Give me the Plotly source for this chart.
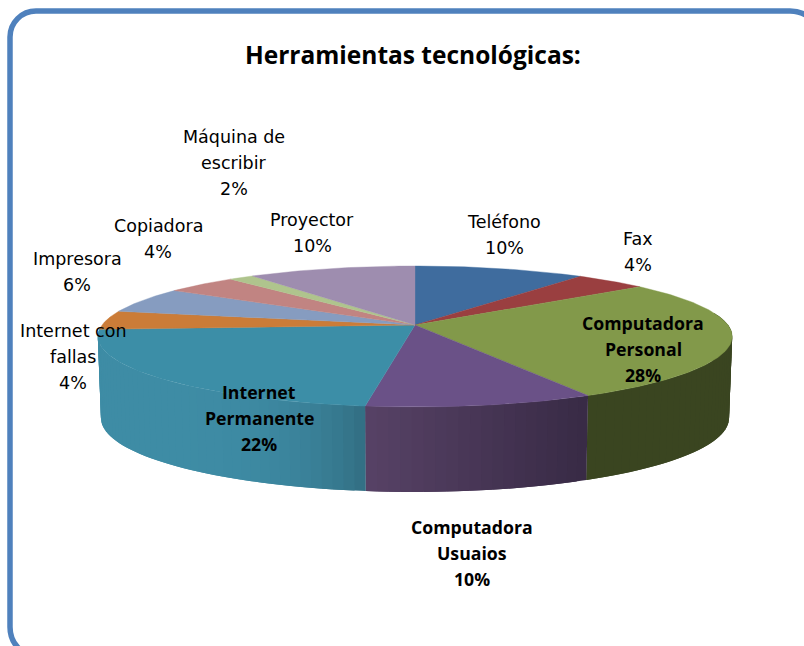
import math
import plotly.graph_objects as go

categories = ["Teléfono", "Fax", "Computadora Personal", "Computadora Usuaios", "Internet Permanente",
              "Internet con fallas", "Impresora", "Copiadora", "Máquina de escribir", "Proyector"]
# slice sizes (the printed labels are rounded)
values = [10.2, 4.3, 27.65, 9.98, 21.87, 4.3, 5.9, 4.3, 1.5, 10.0]
top_colors = ["#3F6C9E", "#9A3F40", "#82994A", "#6A5187", "#3C8EA7",
              "#CB7C38", "#869CC0", "#C18482", "#AFC48D", "#9E8DAF"]
# wall colours: colour at the left end and right end of each slice's visible side, and how the shade runs
wall_left = {2: (58, 69, 32), 3: (87, 66, 102), 4: (62, 140, 165)}
wall_right = {2: (58, 69, 32), 3: (56, 42, 69), 4: (50, 110, 130)}
wall_gamma = {2: 1.0, 3: 1.0, 4: 4.0}
label_lines = [["Teléfono", "10%"], ["Fax", "4%"], ["Computadora", "Personal", "28%"],
               ["Computadora", "Usuaios", "10%"], ["Internet", "Permanente", "22%"],
               ["Internet con", "fallas", "4%"], ["Impresora", "6%"], ["Copiadora", "4%"],
               ["Máquina de", "escribir", "2%"], ["Proyector", "10%"]]
label_bold = [False, False, True, True, True, False, False, False, False, False]
label_x = [504, 638, 643, 472, 259, 73, 77, 158, 234, 312]
label_y = [235, 252, 349, 553, 418, 357, 272, 239, 163, 233]
title_text = "Herramientas tecnológicas:"

CX, CY, R, B, K = 415.0, 325.0, 313.0, 68.6, 0.163
DEPTH = 81.0


def top_pt(theta):
    u, v = math.sin(theta), -math.cos(theta)
    s = 1 / (1 - K * v)
    return CX + R * u * s, CY + B * v * s


def bottom_pt(theta):
    x, y = top_pt(theta)
    v = -math.cos(theta)
    return CX + (x - CX) * 0.99, y + DEPTH + 4 * max(v, 0)


total = sum(values)
edges = [0.0]
for val in values:
    edges.append(edges[-1] + val / total * 2 * math.pi)

fig = go.Figure()

# side wall: overlapping strips, each painted over the last, so the shade changes with no seams
for i in sorted(wall_left):
    a0, a1 = max(edges[i], 1.39), edges[i + 1]
    n = max(2, int((a1 - a0) / 0.03))
    step = (a1 - a0) / n
    x_low, x_high = top_pt(a1)[0], top_pt(a0)[0]
    for j in range(n):
        t0 = a0 + step * j
        t1 = min(a1, t0 + 2 * step)
        pts = [top_pt(t0), top_pt(t1), bottom_pt(t1), bottom_pt(t0)]
        xs = [p[0] for p in pts] + [pts[0][0]]
        ys = [p[1] for p in pts] + [pts[0][1]]
        f = (top_pt(t0 + step / 2)[0] - x_low) / max(x_high - x_low, 1)
        f = min(max(f, 0), 1) ** wall_gamma[i]
        rgb = tuple(round(l + (r - l) * f) for l, r in zip(wall_left[i], wall_right[i]))
        col = "rgb(%d,%d,%d)" % rgb
        fig.add_trace(go.Scatter(x=xs, y=ys, mode="lines", fill="toself", fillcolor=col,
                                 line=dict(color=col, width=0), hoverinfo="skip", showlegend=False))

# top face
for i, name in enumerate(categories):
    n = max(4, int((edges[i + 1] - edges[i]) / 0.015))
    pts = [(CX, CY)] + [top_pt(edges[i] + (edges[i + 1] - edges[i]) * j / n) for j in range(n + 1)] + [(CX, CY)]
    fig.add_trace(go.Scatter(x=[p[0] for p in pts], y=[p[1] for p in pts], mode="lines", fill="toself",
                             fillcolor=top_colors[i], line=dict(color=top_colors[i], width=0.4),
                             name=name, hoverinfo="name", showlegend=False))

annotations = []
LINE_H = 25.7
for lines, bold, lx, ly in zip(label_lines, label_bold, label_x, label_y):
    for k, line in enumerate(lines):
        y = ly + (k - (len(lines) - 1) / 2) * LINE_H
        text = "<b>%s</b>" % line if bold else line
        annotations.append(dict(x=lx, y=y, xref="x", yref="y", text=text, showarrow=False,
                                xanchor="center", yanchor="middle",
                                font=dict(family="Open Sans" if bold else "DejaVu Sans",
                                          size=17.7 if bold else 17.5, color="#000000")))
annotations.append(dict(x=413, y=54, xref="x", yref="y", text="<b>%s</b>" % title_text, showarrow=False,
                        xanchor="center", yanchor="middle",
                        font=dict(family="Open Sans", size=24.5, color="#000000")))

border = ("M 10 627 L 10 37 C 10 22.6 21.6 11 36 11 L 790 11 C 806 11 818 22 818 37 "
          "L 818 629 C 818 645 806 655 790 655 L 36 655 C 21.6 655 10 643.4 10 627 Z")
fig.update_layout(
    width=804, height=646, autosize=False,
    margin=dict(l=0, r=0, t=0, b=0),
    paper_bgcolor="white", plot_bgcolor="white",
    xaxis=dict(range=[0, 804], visible=False, fixedrange=True),
    yaxis=dict(range=[646, 0], visible=False, fixedrange=True),
    shapes=[dict(type="path", path=border, xref="x", yref="y", line=dict(color="#4F81BD", width=5.5), layer="below")],
    annotations=annotations,
)
fig.write_html("out.html", config=dict(displayModeBar=False),
               post_script="document.body.style.margin='0';document.body.style.overflow='hidden';")
